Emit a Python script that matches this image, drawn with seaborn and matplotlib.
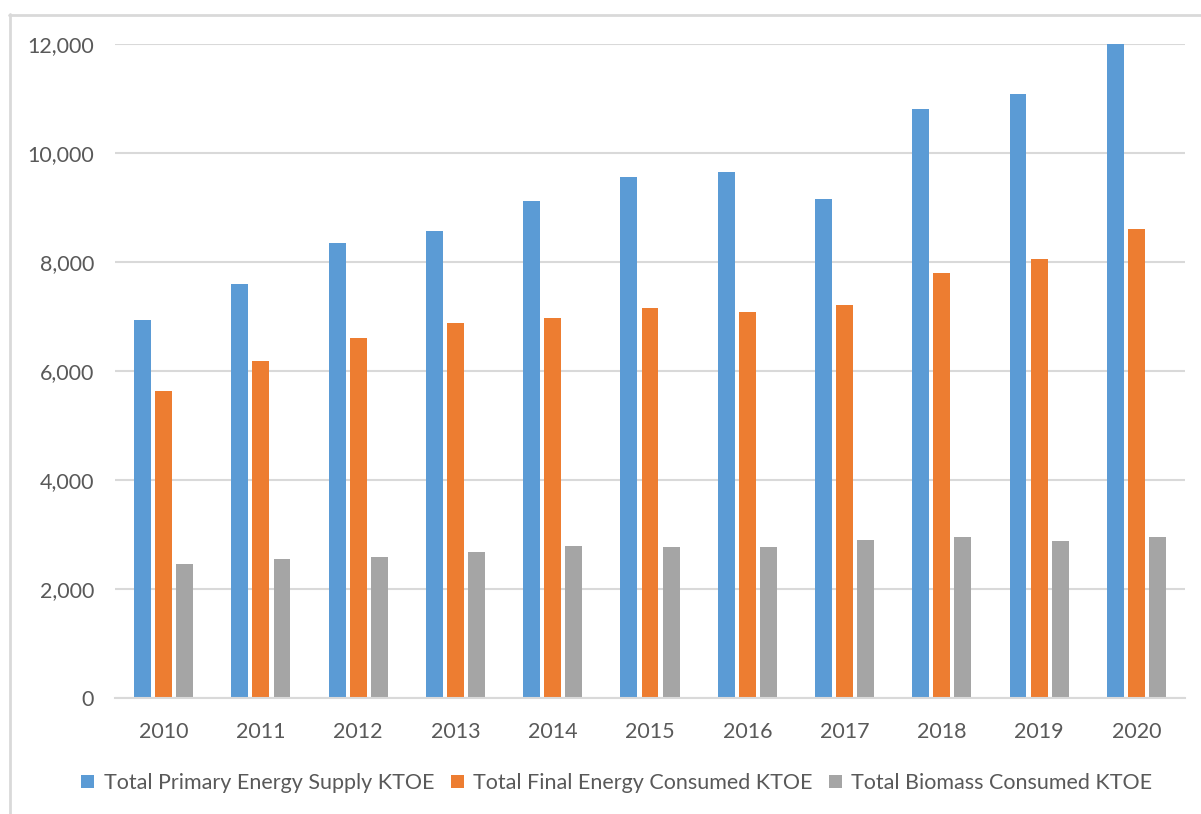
import matplotlib
matplotlib.use("Agg")
import matplotlib.pyplot as plt
from matplotlib.lines import Line2D
from matplotlib.ticker import FuncFormatter, MultipleLocator
import pandas as pd
import seaborn as sns

years = ["2010", "2011", "2012", "2013", "2014", "2015", "2016", "2017", "2018", "2019", "2020"]
primary_supply = [6940, 7600, 8350, 8570, 9120, 9560, 9650, 9160, 10800, 11080, 12020]
final_consumed = [5630, 6180, 6600, 6880, 6970, 7160, 7080, 7210, 7800, 8050, 8600]
biomass_consumed = [2460, 2550, 2590, 2680, 2790, 2770, 2770, 2900, 2950, 2880, 2950]
series_names = [
    "Total Primary Energy Supply KTOE",
    "Total Final Energy Consumed KTOE",
    "Total Biomass Consumed KTOE",
]
colors = ["#5B9BD5", "#ED7D31", "#A5A5A5"]

rows = []
for name, vals in zip(series_names, [primary_supply, final_consumed, biomass_consumed]):
    for y, v in zip(years, vals):
        rows.append({"Year": y, "Series": name, "KTOE": v})
df = pd.DataFrame(rows)

sns.set_theme(style="white")
plt.rcParams["font.family"] = ["Lato", "DejaVu Sans"]
text_color = "#595959"
grid_color = "#D9D9D9"

fig = plt.figure(figsize=(12.01, 8.14), dpi=100)
ax = fig.add_axes([115 / 1201, 1 - 698 / 814, 1070 / 1201, 654 / 814])

sns.barplot(
    data=df, x="Year", y="KTOE", hue="Series", order=years, hue_order=series_names,
    palette=colors, width=0.65, gap=0.2, linewidth=0, saturation=1, ax=ax, legend=True,
)

ax.set_xlim(-0.5, len(years) - 0.5)
ax.set_ylim(0, 12000)
ax.yaxis.set_major_locator(MultipleLocator(2000))
ax.yaxis.set_major_formatter(FuncFormatter(lambda v, _: f"{int(v):,}"))
ax.grid(axis="y", color=grid_color, linewidth=1.5)
ax.set_axisbelow(True)
for side in ["top", "right", "left"]:
    ax.spines[side].set_visible(False)
ax.spines["bottom"].set_color(grid_color)
ax.spines["bottom"].set_linewidth(1.5)
ax.set_xlabel("")
ax.set_ylabel("")
ax.tick_params(axis="both", length=0, labelsize=15.5, labelcolor=text_color)
ax.tick_params(axis="y", pad=15)
ax.tick_params(axis="x", pad=17)

handles, labels = ax.get_legend_handles_labels()
ax.get_legend().remove()
fig.legend(
    handles, labels, loc="center", bbox_to_anchor=(617 / 1201, 1 - 783 / 814),
    ncol=3, frameon=False, fontsize=15.5, labelcolor=text_color,
    handlelength=0.6, handleheight=0.6, handletextpad=0.45, columnspacing=0.75,
)

# light frame around the chart area
fig.add_artist(Line2D([9.5 / 1201, 9.5 / 1201], [0, 1 - 14 / 814],
                      transform=fig.transFigure, color=grid_color, linewidth=2))
fig.add_artist(Line2D([9 / 1201, 1], [1 - 14.5 / 814, 1 - 14.5 / 814],
                      transform=fig.transFigure, color=grid_color, linewidth=2))

fig.savefig("out.png", dpi=100, facecolor="white")
